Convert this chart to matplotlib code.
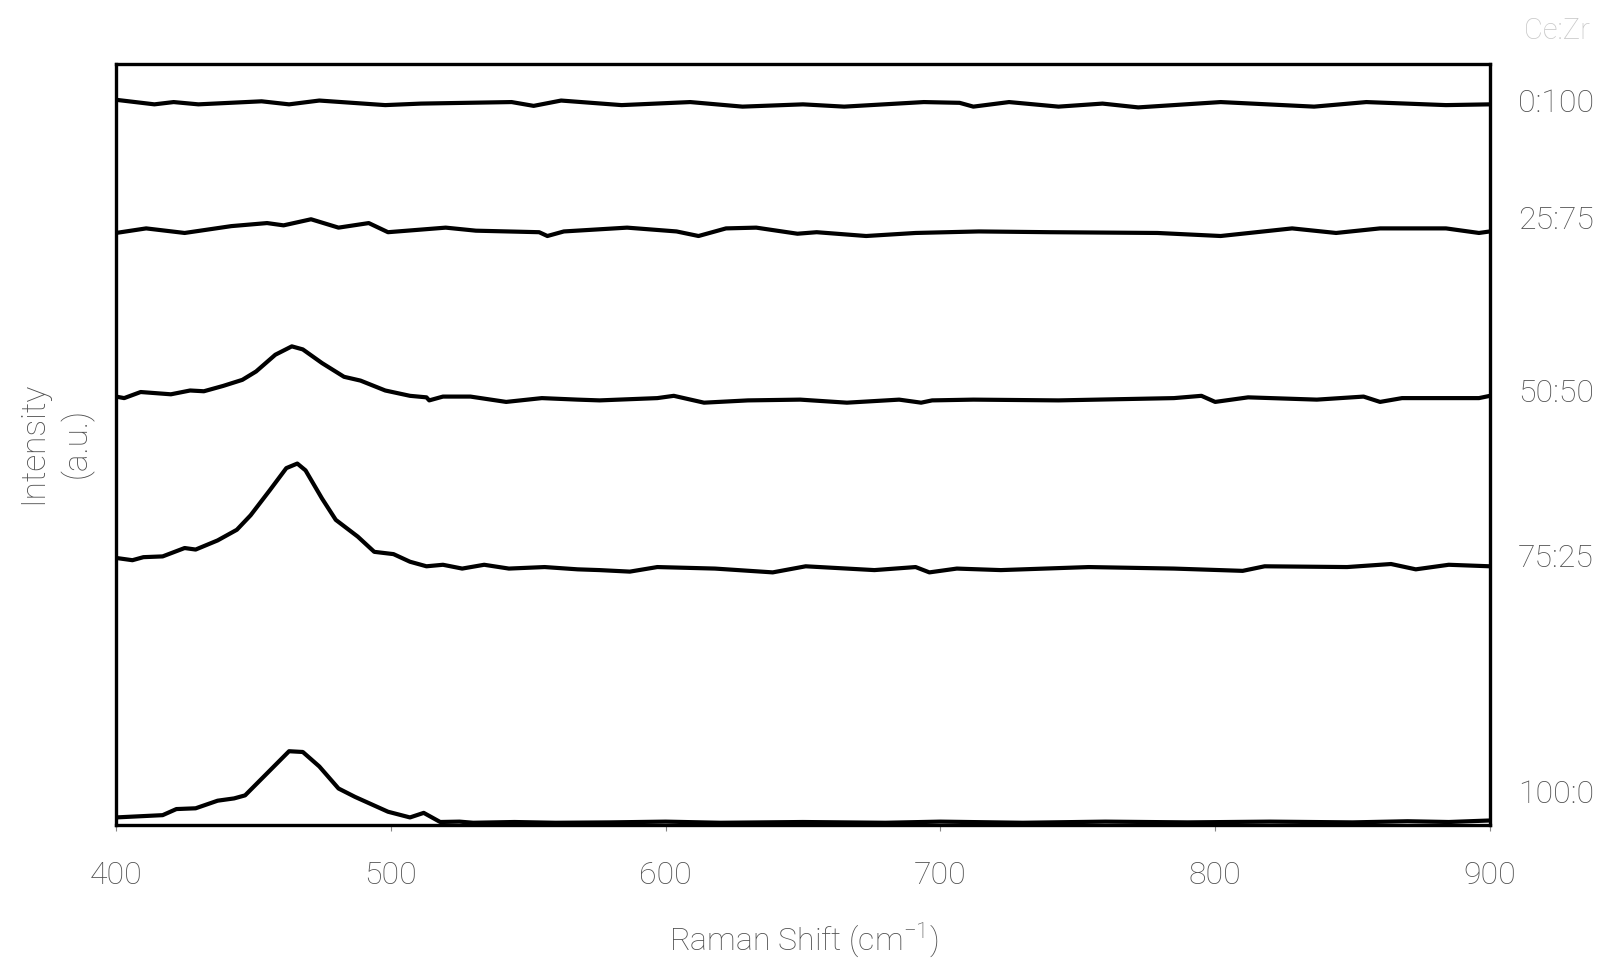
import matplotlib
matplotlib.use("Agg")
import matplotlib.pyplot as plt

x_0_100 = [400, 414, 421, 430, 453, 463, 474, 498, 511, 544, 552, 562, 584, 609, 628, 650, 665,
           694, 707, 712, 725, 743, 759, 772, 802, 836, 855, 884, 900]
y_0_100 = [95.3, 94.7, 95.0, 94.7, 95.1, 94.7, 95.2, 94.6, 94.8, 95.0, 94.5, 95.2, 94.6, 95.0, 94.4,
           94.7, 94.4, 95.0, 94.9, 94.4, 95.0, 94.4, 94.8, 94.3, 95.0, 94.4, 95.0, 94.6, 94.7]

x_25_75 = [400, 411, 425, 442, 455, 461, 471, 481, 492, 499, 520, 531, 554, 557, 563, 586, 604,
           612, 622, 633, 648, 655, 673, 691, 714, 740, 779, 802, 828, 844, 860, 884, 896, 900]
y_25_75 = [77.8, 78.4, 77.8, 78.7, 79.1, 78.8, 79.6, 78.5, 79.1, 77.9, 78.5, 78.1, 77.9, 77.4, 78.0,
           78.5, 78.0, 77.4, 78.4, 78.5, 77.7, 77.9, 77.4, 77.8, 78.0, 77.9, 77.8, 77.4, 78.4, 77.8,
           78.4, 78.4, 77.8, 78.0]

x_50_50 = [400, 403, 409, 420, 427, 432, 439, 446, 451, 458, 464, 468, 475, 483, 489, 498, 507,
           513, 514, 519, 529, 542, 555, 568, 576, 597, 603, 614, 630, 649, 666, 685, 693, 697,
           712, 743, 785, 795, 800, 812, 837, 854, 860, 868, 896, 900]
y_50_50 = [56.3, 56.1, 56.9, 56.6, 57.1, 57.0, 57.7, 58.5, 59.6, 61.8, 62.9, 62.5, 60.7, 58.9, 58.4,
           57.1, 56.4, 56.2, 55.8, 56.3, 56.3, 55.6, 56.1, 55.9, 55.8, 56.1, 56.4, 55.5, 55.8, 55.9,
           55.5, 55.9, 55.5, 55.8, 55.9, 55.8, 56.1, 56.4, 55.6, 56.2, 55.9, 56.3, 55.6, 56.1, 56.1,
           56.4]

x_75_25 = [400, 406, 410, 417, 425, 429, 437, 444, 449, 456, 462, 466, 469, 475, 480, 488, 494,
           501, 507, 513, 519, 526, 534, 543, 556, 568, 576, 587, 597, 618, 639, 651, 676, 691,
           696, 706, 722, 754, 785, 810, 818, 848, 864, 873, 885, 900]
y_75_25 = [35.1, 34.8, 35.2, 35.3, 36.4, 36.2, 37.4, 38.8, 40.7, 44.0, 46.9, 47.5, 46.6, 42.9, 40.1,
           37.9, 35.9, 35.6, 34.6, 34.0, 34.2, 33.7, 34.2, 33.7, 33.9, 33.6, 33.5, 33.3, 33.9, 33.7,
           33.2, 34.0, 33.5, 33.9, 33.2, 33.7, 33.5, 33.9, 33.7, 33.4, 34.0, 33.9, 34.3, 33.6, 34.2,
           34.0]

x_100_0 = [400, 417, 422, 429, 437, 443, 447, 455, 463, 468, 474, 481, 487, 499, 507, 512, 518,
           525, 530, 545, 560, 580, 600, 620, 650, 680, 700, 730, 760, 790, 820, 850, 870, 885, 900]
y_100_0 = [1.0, 1.3, 2.1, 2.2, 3.2, 3.5, 3.9, 6.8, 9.7, 9.6, 7.7, 4.8, 3.7, 1.75, 1.0, 1.6, 0.4,
           0.45, 0.3, 0.4, 0.3, 0.35, 0.45, 0.3, 0.4, 0.3, 0.45, 0.3, 0.45, 0.35, 0.45, 0.35, 0.5,
           0.4, 0.6]

labels = ["0:100", "25:75", "50:50", "75:25", "100:0"]
label_y = [94.8, 79.4, 56.7, 35.0, 4.0]
x_ticks = [400, 500, 600, 700, 800, 900]

plt.rcParams['font.family'] = ['Roboto', 'DejaVu Sans']
plt.rcParams['mathtext.fontset'] = 'custom'
plt.rcParams['mathtext.rm'] = 'Roboto:light'

grey = '#505050'

fig = plt.figure(figsize=(16.08, 9.67), dpi=100)
ax = fig.add_axes([0.0721, 0.1468, 0.8545, 0.787])

series = [(x_0_100, y_0_100), (x_25_75, y_25_75), (x_50_50, y_50_50),
          (x_75_25, y_75_25), (x_100_0, y_100_0)]
for xs, ys in series:
    ax.plot(xs, ys, color='black', lw=3.0, solid_joinstyle='round', solid_capstyle='butt')

ax.set_xlim(400, 900)
ax.set_ylim(0, 100)
ax.set_xticks(x_ticks)
ax.set_yticks([])
for sp in ax.spines.values():
    sp.set_linewidth(2.4)
ax.tick_params(axis='x', direction='out', length=4, width=0.8, color='#888888',
               pad=22, labelsize=23, labelcolor=grey)
for t in ax.get_xticklabels():
    t.set_fontweight('light')

for lab, yy in zip(labels, label_y):
    ax.text(1.048, yy, lab, transform=ax.get_yaxis_transform(), ha='center', va='center',
            fontsize=23, color=grey, fontweight='light', clip_on=False)
ax.text(1.049, 104.4, "Ce:Zr", transform=ax.get_yaxis_transform(), ha='center', va='center',
        fontsize=21, color='#c8c8c8', fontweight='light', clip_on=False)

fig.text(0.5, 0.027, r"Raman Shift (cm$^{-1}$)", ha='center', va='center',
         fontsize=23, color=grey, fontweight='light')
fig.text(55.5 / 1608, 1 - 443 / 967, "Intensity\n(a.u.)", rotation=90, ha='center', va='center',
         multialignment='center', linespacing=1.4, fontsize=24, color=grey, fontweight='light')

fig.savefig("out.png", dpi=100)
